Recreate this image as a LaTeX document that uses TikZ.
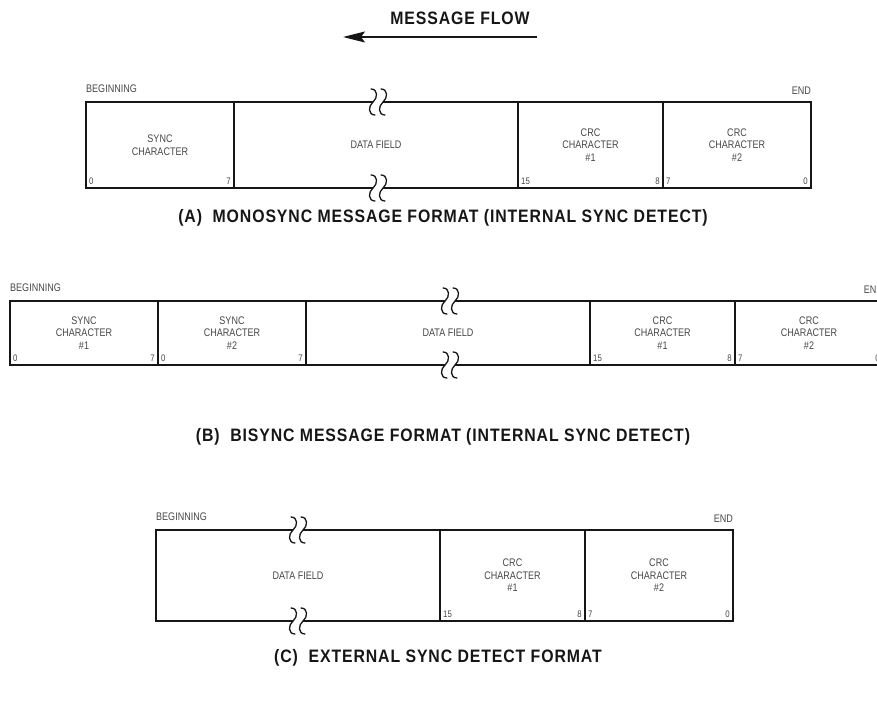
\documentclass[tikz,border=0pt]{standalone}
\usepackage{fontspec}
\setsansfont{Liberation Sans}[FakeStretch=0.82]
\newfontfamily\headfont{Liberation Sans}[FakeStretch=0.88,LetterSpace=5]
\renewcommand{\familydefault}{\sfdefault}
\usepackage{tikz}
\usetikzlibrary{arrows.meta,positioning}
\definecolor{ink}{RGB}{22,22,22}
\definecolor{inksoft}{RGB}{70,70,70}
\tikzset{
  cell/.style={rectangle, draw=ink, line width=1.2pt, inner sep=0pt, outer sep=0pt,
               align=center, text=inksoft, font=\sffamily\fontsize{11}{12.5}\selectfont},
  synccell/.style={cell, minimum width=148pt},
  datacell/.style={cell, minimum width=284pt},
  crccell/.style={cell, minimum width=145pt},
  crclast/.style={cell, minimum width=148pt},
  bit/.style={text=inksoft, inner sep=3pt, font=\sffamily\fontsize{9.5}{9.5}\selectfont},
  tag/.style={text=inksoft, inner sep=0pt, font=\sffamily\fontsize{11}{11}\selectfont},
  caption/.style={text=ink, font=\headfont\bfseries\fontsize{18}{18}\selectfont},
  flowarrow/.style={-{Stealth[length=22pt,width=11pt,inset=4pt]}, line width=1.1pt, draw=ink},
  % broken-line mark on the data field edges
  brk/.pic={
    \fill[white] (-5,-2.5) rectangle (5,2.5);
    \foreach \dx in {-5,5}
      \draw[ink, line width=1.3pt, line cap=round]
        ([xshift=\dx pt]-2,-13) .. controls ([xshift=\dx pt]5,-13) and ([xshift=\dx pt]5,-4) .. ([xshift=\dx pt]0,0)
        .. controls ([xshift=\dx pt]-5,4) and ([xshift=\dx pt]-5,13) .. ([xshift=\dx pt]2,13);
  },
}

\begin{document}
\begin{tikzpicture}[x=1pt, y=-1pt]
  \useasboundingbox (0,0) rectangle (877,701);
  \clip (0,0) rectangle (877,701);

  % direction of transmission
  \node[caption] (flow) at (460,18) {MESSAGE FLOW};
  \coordinate (flowtail) at (537,37);
  \coordinate (flowtip) at (343,37);
  \draw[flowarrow] (flowtail) -- (flowtip);

  % (A) monosync
  \node[synccell, minimum height=86pt, anchor=north west] (a1) at (86,102) {SYNC\\CHARACTER};
  \node[datacell, minimum height=86pt, right=0pt of a1] (a2) {DATA FIELD};
  \node[crccell, minimum height=86pt, right=0pt of a2] (a3) {CRC\\CHARACTER\\\#1};
  \node[crclast, minimum height=86pt, right=0pt of a3] (a4) {CRC\\CHARACTER\\\#2};
  \pic at (378,102) {brk};
  \pic at (378,188) {brk};
  \node[tag, anchor=south west] (abeg) at ([yshift=9pt]a1.north west) {BEGINNING};
  \node[tag, anchor=south east] (aend) at ([yshift=7pt]a4.north east) {END};
  \node[bit, anchor=south west] (a1lo) at (a1.south west) {0};
  \node[bit, anchor=south east] (a1hi) at (a1.south east) {7};
  \node[bit, anchor=south west] (a3lo) at (a3.south west) {15};
  \node[bit, anchor=south east] (a3hi) at (a3.south east) {8};
  \node[bit, anchor=south west] (a4lo) at (a4.south west) {7};
  \node[bit, anchor=south east] (a4hi) at (a4.south east) {0};
  \node[caption] (capA) at (443,218) {(A)\ \ MONOSYNC MESSAGE FORMAT (INTERNAL SYNC DETECT)};

  % (B) bisync
  \node[synccell, minimum height=64pt, anchor=north west] (b1) at (10,301) {SYNC\\CHARACTER\\\#1};
  \node[synccell, minimum height=64pt, right=0pt of b1] (b2) {SYNC\\CHARACTER\\\#2};
  \node[datacell, minimum height=64pt, right=0pt of b2] (b3) {DATA FIELD};
  \node[crccell, minimum height=64pt, right=0pt of b3] (b4) {CRC\\CHARACTER\\\#1};
  \node[crclast, minimum height=64pt, right=0pt of b4] (b5) {CRC\\CHARACTER\\\#2};
  \pic at (450,301) {brk};
  \pic at (450,365) {brk};
  \node[tag, anchor=south west] (bbeg) at ([yshift=9pt]b1.north west) {BEGINNING};
  \node[tag, anchor=south east] (bend) at ([yshift=7pt]b5.north east) {END};
  \node[bit, anchor=south west] (b1lo) at (b1.south west) {0};
  \node[bit, anchor=south east] (b1hi) at (b1.south east) {7};
  \node[bit, anchor=south west] (b2lo) at (b2.south west) {0};
  \node[bit, anchor=south east] (b2hi) at (b2.south east) {7};
  \node[bit, anchor=south west] (b4lo) at (b4.south west) {15};
  \node[bit, anchor=south east] (b4hi) at (b4.south east) {8};
  \node[bit, anchor=south west] (b5lo) at (b5.south west) {7};
  \node[bit, anchor=south east] (b5hi) at (b5.south east) {0};
  \node[caption] (capB) at (443,437) {(B)\ \ BISYNC MESSAGE FORMAT (INTERNAL SYNC DETECT)};

  % (C) external sync
  \node[datacell, minimum height=91pt, anchor=north west] (c1) at (156,530) {DATA FIELD};
  \node[crccell, minimum height=91pt, right=0pt of c1] (c2) {CRC\\CHARACTER\\\#1};
  \node[crclast, minimum height=91pt, right=0pt of c2] (c3) {CRC\\CHARACTER\\\#2};
  \pic at (298,530) {brk};
  \pic at (298,621) {brk};
  \node[tag, anchor=south west] (cbeg) at ([yshift=9pt]c1.north west) {BEGINNING};
  \node[tag, anchor=south east] (cend) at ([yshift=7pt]c3.north east) {END};
  \node[bit, anchor=south west] (c2lo) at (c2.south west) {15};
  \node[bit, anchor=south east] (c2hi) at (c2.south east) {8};
  \node[bit, anchor=south west] (c3lo) at (c3.south west) {7};
  \node[bit, anchor=south east] (c3hi) at (c3.south east) {0};
  \node[caption] (capC) at (438,658) {(C)\ \ EXTERNAL SYNC DETECT FORMAT};
\end{tikzpicture}
\end{document}
